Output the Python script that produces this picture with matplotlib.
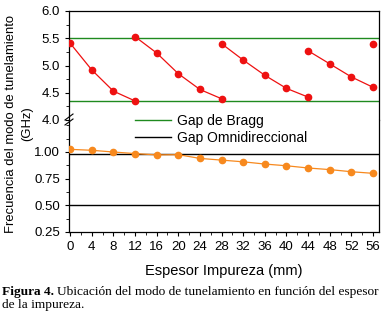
import matplotlib
matplotlib.use("Agg")
import matplotlib.pyplot as plt
from matplotlib.lines import Line2D
from matplotlib.ticker import MultipleLocator

plt.rcParams['font.family'] = ['Liberation Sans', 'DejaVu Sans']

# Tunnelling-mode frequencies (GHz), top panel, in connected segments
seg_x = [[0, 4, 8, 12], [12, 16, 20, 24, 28], [28, 32, 36, 40, 44], [44, 48, 52, 56], [56]]
seg_y = [[5.41, 4.92, 4.53, 4.35],
         [5.53, 5.23, 4.85, 4.56, 4.39],
         [5.40, 5.10, 4.82, 4.58, 4.42],
         [5.27, 5.03, 4.79, 4.60],
         [5.39]]
# Bottom panel series
low_x = [0, 4, 8, 12, 16, 20, 24, 28, 32, 36, 40, 44, 48, 52, 56]
low_y = [1.025, 1.016, 1.00, 0.985, 0.973, 0.975, 0.94, 0.924, 0.908, 0.887, 0.871, 0.85, 0.835, 0.815, 0.80]
bragg_gap = [4.35, 5.51]
omni_gap = [0.50, 0.985]
xticks = list(range(0, 57, 4))

W, H = 384, 313
fig = plt.figure(figsize=(W / 100, H / 100), dpi=100)
L, R, T, B, BRK = 69, 379, 11, 232, 120
ax_t = fig.add_axes([L / W, 1 - BRK / H, (R - L) / W, (BRK - T) / H])
ax_b = fig.add_axes([L / W, 1 - B / H, (R - L) / W, (B - BRK) / H])

red = '#ee1111'
orange = '#f7891e'
green = '#1f8a1f'

for a in (ax_t, ax_b):
    a.set_xlim(-0.2, 57.1)
    a.tick_params(direction='out', labelsize=9.5, length=3, width=0.8)
    a.tick_params(which='minor', direction='out', length=2, width=0.6)
    a.xaxis.set_minor_locator(MultipleLocator(2))
    for s in a.spines.values():
        s.set_linewidth(0.9)

for x, y in zip(seg_x, seg_y):
    ax_t.plot(x, y, '-o', color=red, lw=0.9, ms=4.5, zorder=3)
for g in bragg_gap:
    ax_t.axhline(g, color=green, lw=1.0, zorder=2)
ax_t.set_ylim(4.0, 6.0)
ax_t.set_yticks([4.0, 4.5, 5.0, 5.5, 6.0])
ax_t.set_yticklabels(['4.0', '4.5', '5.0', '5.5', '6.0'])
ax_t.yaxis.set_minor_locator(MultipleLocator(0.25))
ax_t.set_xticks(xticks)
ax_t.tick_params(axis='x', which='both', bottom=False, labelbottom=False)
ax_t.spines['bottom'].set_visible(False)

ax_b.plot(low_x, low_y, '-o', color=orange, lw=0.9, ms=4.5, zorder=3,
          markerfacecolor=orange, markeredgecolor=orange)
for g in omni_gap:
    ax_b.axhline(g, color='black', lw=1.0, zorder=2)
ax_b.set_ylim(0.25, 1.30)
ax_b.set_yticks([0.25, 0.50, 0.75, 1.00])
ax_b.set_yticklabels(['0.25', '0.50', '0.75', '1.00'])
ax_b.yaxis.set_minor_locator(MultipleLocator(0.125))
ax_b.set_xticks(xticks)
ax_b.spines['top'].set_visible(False)

handles = [Line2D([], [], color=green, lw=1.0), Line2D([], [], color='black', lw=1.0)]
ax_b.legend(handles, ['Gap de Bragg', 'Gap Omnidireccional'], loc='upper left',
            bbox_to_anchor=(135 / W, 1 - 114 / H), bbox_transform=fig.transFigure,
            frameon=False, fontsize=10, handlelength=2.6, handletextpad=0.4,
            labelspacing=0.2, borderaxespad=0, borderpad=0)

# break marks
for dy in (-3, 2):
    y0 = 1 - (BRK + dy) / H
    fig.add_artist(Line2D([(L - 4) / W, (L + 4) / W], [y0 - 3 / H, y0 + 3 / H],
                          color='black', lw=0.8, transform=fig.transFigure))

fig.text(0.5 * (L + R) / W + 0.0, 1 - 271 / H, 'Espesor Impureza (mm)', ha='center', va='center', fontsize=10.5)
fig.text(19 / W, 1 - 124 / H, 'Frecuencia del modo de tunelamiento\n(GHz)', rotation=90,
         ha='center', va='center', fontsize=9.4, multialignment='center', linespacing=1.5)

t1 = fig.text(2 / W, 1 - 295 / H, 'Figura 4.', fontsize=9.6, fontweight='bold',
              family='Liberation Serif', va='baseline')
fig.canvas.draw()
bb = t1.get_window_extent()
fig.text(bb.x1 / W + 3 / W, 1 - 295 / H, 'Ubicación del modo de tunelamiento en función del espesor',
         fontsize=9.6, family='Liberation Serif', va='baseline')
fig.text(2 / W, 1 - 308 / H, 'de la impureza.', fontsize=9.6, family='Liberation Serif', va='baseline')

fig.savefig('out.png', dpi=100)
